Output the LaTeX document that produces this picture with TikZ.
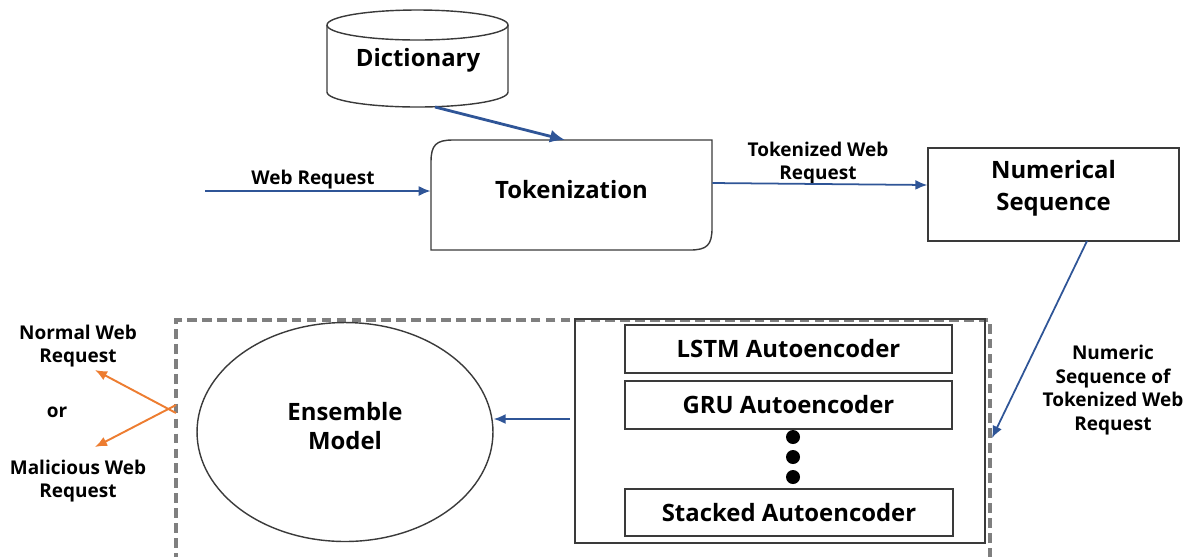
\documentclass[tikz,border=0pt]{standalone}
\usepackage{fontspec}
\setmainfont{Open Sans}
\usepackage{tikz}
\usetikzlibrary{shapes.geometric}
\usetikzlibrary{arrows.meta}
\usetikzlibrary{positioning}

\definecolor{flowblue}{HTML}{2F5597}
\definecolor{outorange}{HTML}{ED7D31}
\definecolor{framegray}{HTML}{7F7F7F}
\definecolor{linegray}{HTML}{3A3A3A}

\begin{document}
\begin{tikzpicture}[x=0.02cm,y=-0.02cm]

  \tikzset{bigtext/.style = {font=\fontsize{13.6}{17}\selectfont\bfseries, align=center}}
  \tikzset{smalltext/.style = {font=\fontsize{10.8}{12.8}\selectfont\bfseries, align=center}}
  \tikzset{block/.style = {draw=linegray, line width=0.8pt, bigtext, inner sep=0pt}}
  \tikzset{flow/.style = {-{Latex[length=2.4mm,width=2mm]}, flowblue, line width=1pt}}
  \tikzset{result/.style = {-{Latex[length=2.4mm,width=2mm]}, outorange, line width=1.1pt}}

  \useasboundingbox (0,0) rectangle (1192,556);
  \clip (0,0) rectangle (1192,556);

  % nodes
  \node[bigtext] (dict) at (418,60) {Dictionary};
  \node[bigtext, minimum width=5.62cm, minimum height=2.2cm] (tok) at (571.5,190) {Tokenization};
  \node[block, minimum width=5.02cm, minimum height=1.86cm, text depth=10pt] (num) at (1053.5,194.5) {Numerical\\[1pt]Sequence};
  \node[draw=framegray, line width=2pt, dash pattern=on 5.5pt off 3pt,
        minimum width=16.28cm, minimum height=5.2cm] (frame) at (583,450) {};
  \node[block, ellipse, minimum width=5.92cm, minimum height=4.38cm, text depth=7pt] (ens) at (345,432) {Ensemble\\Model};
  \node[block, minimum width=8.2cm, minimum height=4.48cm] (stack) at (780,431) {};
  \node[block, minimum width=6.54cm, minimum height=0.96cm] (lstm) at (788.5,349) {LSTM Autoencoder};
  \node[block, minimum width=6.54cm, minimum height=0.96cm] (gru) at (788.5,405) {GRU Autoencoder};
  \node[block, minimum width=6.56cm, minimum height=0.94cm] (sae) at (789,512.5) {Stacked Autoencoder};
  \foreach \y in {437,457,477}
    \fill (793,\y) circle (0.14cm);

  % dictionary drum
  \draw[linegray, line width=0.8pt] (417.5,25) ellipse (90.5 and 15);
  \draw[linegray, line width=0.8pt] (327,25) -- (327,92) arc[start angle=180, end angle=360, x radius=90.5, y radius=-15] -- (508,25);

  % tokenization box, two corners rounded
  \draw[linegray, line width=0.8pt] (431,162) .. controls (431,145) and (436,140) .. (453,140) -- (712,140)
    -- (712,228) .. controls (712,245) and (707,250) .. (690,250) -- (431,250) -- cycle;

  % labels
  \node[smalltext] (webreq) at (313,180) {Web Request};
  \node[smalltext] (tokreq) at (818,163) {Tokenized Web\\Request};
  \node[smalltext, font=\fontsize{10.8}{13.5}\selectfont\bfseries] (numreq) at (1113,390) {Numeric\\Sequence of\\Tokenized Web\\Request};
  \node[smalltext] (normal) at (78,346) {Normal Web\\Request};
  \node[smalltext] (ortext) at (57,412) {or};
  \node[smalltext] (malicious) at (78,481) {Malicious Web\\Request};

  \coordinate (src) at (205,191);
  \coordinate (dictout) at (435,107);
  \coordinate (tokin) at (565,140);
  \coordinate (numout) at (1087,241);
  \coordinate (framein) at (992,438);
  \coordinate (stackout) at (570,419);
  \coordinate (normalend) at (95,370);
  \coordinate (maliciousend) at (95,447);
  \coordinate (split1) at (176,413);
  \coordinate (split2) at (176,405);

  % edges
  \draw[flow] (src) -- (tok.west |- src);
  \draw[flow, line width=1.6pt, -{Latex[length=3mm,width=2.6mm]}] (dictout) -- (tokin);
  \draw[flow] (tok.east |- 0,183) -- (num.west |- 0,185);
  \draw[flow] (numout) -- (framein);
  \draw[flow] (stackout) -- (ens.east |- stackout);
  \draw[result] (split1) -- (normalend);
  \draw[result] (split2) -- (maliciousend);
\end{tikzpicture}
\end{document}
